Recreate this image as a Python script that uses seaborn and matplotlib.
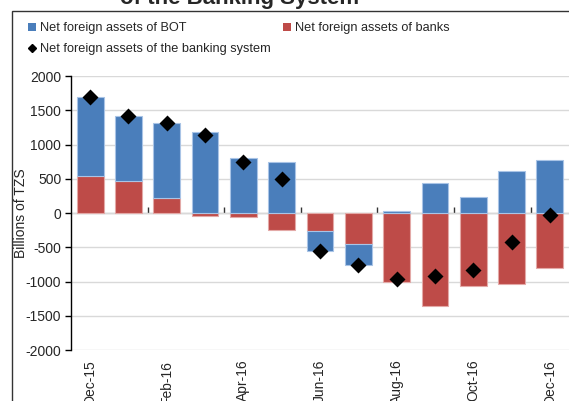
import numpy as np
import pandas as pd
import matplotlib.pyplot as plt
import seaborn as sns
from matplotlib.patches import Patch, Rectangle
from matplotlib.lines import Line2D

# data (billions of TZS)
months = ['Dec-15', 'Jan-16', 'Feb-16', 'Mar-16', 'Apr-16', 'May-16', 'Jun-16',
          'Jul-16', 'Aug-16', 'Sep-16', 'Oct-16', 'Nov-16', 'Dec-16']
nfa_bot = [1143, 959, 1085, 1187, 797, 739, -287, -312, 34, 432, 234, 613, 774]
nfa_banks = [545, 461, 223, -44, -58, -244, -263, -453, -1003, -1358, -1061, -1032, -809]
shown_ticks = ['Dec-15', 'Feb-16', 'Apr-16', 'Jun-16', 'Aug-16', 'Oct-16', 'Dec-16']

df = pd.DataFrame({'month': months, 'bot': nfa_bot, 'banks': nfa_banks})
df['total'] = df['bot'] + df['banks']
# stack like excel: same-sign values pile up, opposite sign starts at zero
df['bot_base'] = np.where(np.sign(df['bot']) == np.sign(df['banks']), df['banks'], 0)

blue = '#4a7ebb'
red = '#be4b48'

sns.set_style('white')
plt.rcParams['font.family'] = ['Liberation Sans', 'DejaVu Sans']
plt.rcParams['axes.unicode_minus'] = False

fig = plt.figure(figsize=(5.69, 4.01), dpi=100)
ax = fig.add_axes([71 / 569, 1 - 350 / 401, 498 / 569, 274 / 401])

sns.barplot(data=df, x='month', y='banks', color=red, width=0.7,
            edgecolor='#e3a9a7', linewidth=0.8, saturation=1, ax=ax)
sns.barplot(data=df, x='month', y='bot', bottom=df['bot_base'].to_numpy(), color=blue,
            width=0.7, edgecolor='#a9c4e6', linewidth=0.8, saturation=1, ax=ax)
sns.pointplot(data=df, x='month', y='total', color='black', markers='D',
              linestyle='none', markersize=6, ax=ax, zorder=5)

ax.set_ylim(-2000, 2000)
ax.set_xlim(-0.5, len(months) - 0.5)
ax.set_yticks(np.arange(-2000, 2001, 500))
ax.yaxis.grid(True, color='#d9d9d9', lw=1)
ax.set_axisbelow(True)
ax.tick_params(axis='y', direction='out', length=4, width=1, color='black',
               labelsize=10, pad=3, left=True)
for s in ['top', 'right', 'bottom']:
    ax.spines[s].set_visible(False)
ax.spines['left'].set_color('black')
ax.spines['left'].set_linewidth(1)

ax.set_xticks([months.index(m) for m in shown_ticks])
ax.set_xticklabels(shown_ticks, rotation=90, fontsize=10)
ax.tick_params(axis='x', length=0, pad=7)
ax.set_xlabel('')
ax.set_ylabel('Billions of TZS', fontsize=10)
ax.yaxis.set_label_coords((28.5 - 71) / 498, 0.5)

# zero line with ticks between every second category
zero_ax = ax.secondary_xaxis(0.5)
zero_ax.set_xticks(np.arange(1.5, len(months) - 1, 2))
zero_ax.set_xticklabels([])
zero_ax.tick_params(direction='out', length=4, width=1, color='#333333')
zero_ax.spines['bottom'].set_color('black')
zero_ax.spines['bottom'].set_linewidth(1)

handles = [Patch(facecolor=blue, edgecolor='none'),
           Line2D([], [], marker='D', color='black', linestyle='none', markersize=4),
           Patch(facecolor=red, edgecolor='none')]
labels = ['Net foreign assets of BOT', 'Net foreign assets of the banking system',
          'Net foreign assets of banks']
fig.legend(handles, labels, ncol=2, loc='upper left', bbox_to_anchor=(23 / 569, 1 - 17 / 401),
           frameon=False, fontsize=9.2, handlelength=0.6, handleheight=0.6,
           handletextpad=0.3, columnspacing=1.0, labelspacing=0.68, borderaxespad=0)

# chart border and clipped title
fig.patches.append(Rectangle((12 / 569, -0.1), 1.1, 1.1 - 11 / 401, transform=fig.transFigure,
                             fill=False, edgecolor='#333333', lw=1))
fig.text(240 / 569, 1 - 4 / 401, 'of the Banking System', ha='center', va='baseline',
         fontsize=16, fontweight='bold')

fig.savefig('out.png', dpi=100)
